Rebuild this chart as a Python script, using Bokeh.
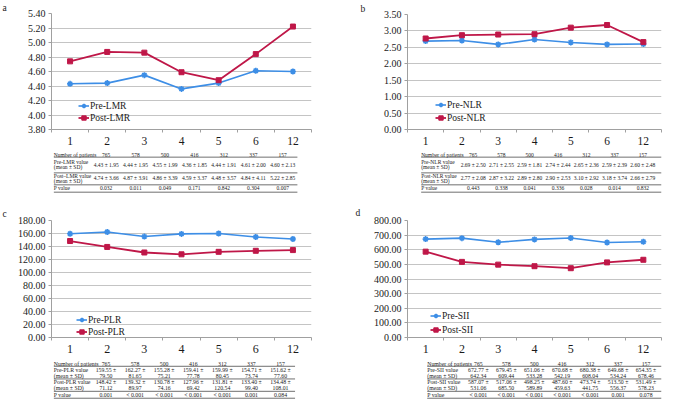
from bokeh.plotting import figure
from bokeh.layouts import column, row
from bokeh.models import Range1d, FixedTicker, NumeralTickFormatter
from bokeh.embed import file_html
from bokeh.resources import INLINE
from bokeh.core.properties import value

# ---------------- data ----------------
categories = ["1", "2", "3", "4", "5", "6", "12"]
n_patients = [765, 578, 500, 416, 312, 337, 157]

lmr_pre_mean = [4.43, 4.44, 4.55, 4.36, 4.44, 4.61, 4.60]
lmr_pre_sd = [1.95, 1.95, 1.99, 1.85, 1.91, 2.00, 2.13]
lmr_post_mean = [4.74, 4.87, 4.86, 4.59, 4.48, 4.84, 5.22]
lmr_post_sd = [3.66, 3.91, 3.39, 3.37, 3.57, 4.11, 2.85]
lmr_p = ["0.032", "0.011", "0.049", "0.171", "0.842", "0.304", "0.007"]
lmr_yticks = [3.80, 4.00, 4.20, 4.40, 4.60, 4.80, 5.00, 5.20, 5.40]

nlr_pre_mean = [2.69, 2.71, 2.59, 2.74, 2.65, 2.59, 2.60]
nlr_pre_sd = [2.50, 2.55, 1.81, 2.44, 2.36, 2.39, 2.48]
nlr_post_mean = [2.77, 2.87, 2.89, 2.90, 3.10, 3.18, 2.66]
nlr_post_sd = [2.08, 3.22, 2.80, 2.53, 2.92, 3.74, 2.79]
nlr_p = ["0.443", "0.338", "0.041", "0.336", "0.028", "0.014", "0.832"]
nlr_yticks = [0.00, 0.50, 1.00, 1.50, 2.00, 2.50, 3.00, 3.50]

plr_pre_mean = [159.55, 162.27, 155.28, 159.41, 159.99, 154.71, 151.62]
plr_pre_sd = [79.50, 81.65, 75.21, 77.78, 80.45, 73.74, 77.60]
plr_post_mean = [148.42, 139.32, 130.78, 127.96, 131.81, 133.40, 134.48]
plr_post_sd = [71.12, 89.97, 74.16, 69.42, 120.54, 99.40, 108.01]
plr_p = ["0.001", "< 0.001", "< 0.001", "< 0.001", "< 0.001", "0.001", "0.084"]
plr_yticks = [0, 20, 40, 60, 80, 100, 120, 140, 160, 180]

sii_pre_mean = [672.77, 679.45, 651.06, 670.68, 680.38, 649.68, 654.35]
sii_pre_sd = [642.34, 609.44, 533.28, 542.19, 608.04, 534.24, 678.46]
sii_post_mean = [587.07, 517.06, 498.25, 487.60, 473.74, 513.50, 531.49]
sii_post_sd = [531.06, 685.50, 589.89, 459.63, 441.75, 556.37, 578.23]
sii_p = ["< 0.001", "< 0.001", "< 0.001", "< 0.001", "< 0.001", "0.001", "0.078"]
sii_yticks = [0, 100, 200, 300, 400, 500, 600, 700, 800]

# ---------------- style / layout ----------------
BLUE = "#3d8ee6"
RED = "#bf1748"
GRID = "#c4c4c4"
AXIS = "#a0a0a0"
SERIF = "Liberation Serif"
TXT = "#1a1a1a"

REF_W, REF_H = 683, 419
W, H = 667, 403
SX, SY = W / REF_W, H / REF_H


def X(v):
    return round(v * SX)


def Y(v):
    return round(v * SY)


# table row positions (reference-pixel y, absolute)
TOP_ROWS = dict(num=160.3, line1=163.0, pre=(168.3, 173.5), line2=179.3,
                post=(182.3, 187.8), line3=191.7, pval=195.2, bottom=199.3,
                two_line=False, font="5.5px")
BOT_ROWS = dict(num=377.6, line1=380.2, pre=(383.6, 390.0), line2=393.4,
                post=(397.0, 402.8), line3=406.3, pval=410.0, bottom=413.5,
                two_line=True, font="5.8px")

nx = len(categories)
xs = [i + 1 for i in range(nx)]
bounds = [i + 0.5 for i in range(nx + 1)]


def make_panel(spec, pre_m, pre_sd, post_m, post_sd, pvals, yticks, name, yfont, xfont):
    cl, cr = spec["col"]
    ct, cb = spec["chart"]
    tb = spec["tab_bottom"]
    fl, fr, ft, fb = spec["frame"]
    wpx = X(cr) - X(cl)
    hpx = Y(cb) - Y(ct)
    bl = X(fl) - X(cl)
    br = X(cr) - X(fr)
    bt = Y(ft) - Y(ct)
    bb = Y(cb) - Y(fb)

    letter, lx0 = spec["letter"]
    p = figure(width=wpx, height=hpx, x_range=Range1d(0.5, nx + 0.5),
               y_range=Range1d(yticks[0], yticks[-1]),
               output_backend="svg", toolbar_location=None,
               min_border_left=bl, min_border_right=br,
               min_border_top=bt, min_border_bottom=bb,
               title=letter)
    p.title.align = "left"
    p.title.offset = X(lx0) - X(fl)
    p.title.standoff = spec["letter_standoff"]
    p.title.text_font = SERIF
    p.title.text_font_style = "normal"
    p.title.text_font_size = "9.5px"
    p.title.text_color = TXT
    p.title.text_line_height = 1.0

    p.outline_line_color = None
    p.xgrid.visible = False
    p.ygrid.grid_line_color = GRID
    p.ygrid.grid_line_width = 1
    p.yaxis.ticker = FixedTicker(ticks=yticks)
    p.ygrid.ticker = FixedTicker(ticks=yticks)
    p.yaxis.formatter = NumeralTickFormatter(format="0.00")
    p.yaxis.axis_label = None
    p.yaxis.axis_label_standoff = 0
    p.yaxis.axis_line_color = AXIS
    p.yaxis.major_tick_line_color = AXIS
    p.yaxis.major_tick_out = 3
    p.yaxis.major_tick_in = 0
    p.yaxis.minor_tick_line_color = None
    p.yaxis.major_label_standoff = 3
    p.yaxis.major_label_text_font = SERIF
    p.yaxis.major_label_text_font_size = yfont
    p.yaxis.major_label_text_color = TXT

    p.xaxis.ticker = FixedTicker(ticks=xs, minor_ticks=bounds)
    p.xaxis.major_label_overrides = {x: c for x, c in zip(xs, categories)}
    p.xaxis.axis_label = None
    p.xaxis.axis_label_standoff = 0
    p.xaxis.axis_line_color = AXIS
    p.xaxis.major_tick_line_color = None
    p.xaxis.major_tick_out = 0
    p.xaxis.major_tick_in = 0
    p.xaxis.minor_tick_line_color = AXIS
    p.xaxis.minor_tick_out = 3
    p.xaxis.minor_tick_in = 0
    p.xaxis.major_label_standoff = 4
    p.xaxis.major_label_text_font = SERIF
    p.xaxis.major_label_text_font_size = xfont
    p.xaxis.major_label_text_line_height = 1.0
    p.xaxis.major_label_text_color = TXT

    lp = "Pre-" + name
    lq = "Post-" + name
    p.line(xs, pre_m, line_color=BLUE, line_width=1.6, legend_label=lp)
    p.scatter(xs, pre_m, marker="asterisk", size=6, line_color=BLUE, line_width=1.6, legend_label=lp)
    p.line(xs, post_m, line_color=RED, line_width=1.8, legend_label=lq)
    p.scatter(xs, post_m, marker="square", size=5, line_color=RED, fill_color=RED, legend_label=lq)

    lg = p.legend[0]
    lx, ly, sp = spec["legend"]
    lg.location = (round(lx * SX), round(ly * SY))
    lg.background_fill_alpha = 0
    lg.border_line_alpha = 0
    lg.padding = 0
    lg.margin = 0
    lg.spacing = sp
    lg.glyph_width = 11
    lg.glyph_height = 11
    lg.label_height = 11
    lg.label_standoff = 1
    lg.label_text_font = SERIF
    lg.label_text_font_size = "9.5px"
    lg.label_text_color = TXT

    # ---------------- table ----------------
    unit = (X(fr) - X(fl)) / nx
    tstart = 0.5 - bl / unit
    tend = nx + 0.5 + br / unit
    t = figure(width=wpx, height=Y(tb) - Y(cb), x_range=Range1d(tstart, tend),
               y_range=Range1d(tb, cb), x_axis_type=None, y_axis_type=None,
               output_backend="svg", toolbar_location=None,
               min_border=0, min_border_left=0, min_border_right=0,
               min_border_top=0, min_border_bottom=0)
    t.outline_line_color = None
    tl, tr = spec["table"]
    x_left = 0.5 + (X(tl) - X(fl)) / unit
    x_right = 0.5 + (X(tr) - X(fl)) / unit
    rows = spec["rows"]
    fs = value(rows["font"])

    left_txt = ["Number of patients",
                "Pre-%s value" % name, "(mean \u00b1 SD)",
                spec["post_label"], "(mean \u00b1 SD)", "P value"]
    left_y = [rows["num"], rows["pre"][0], rows["pre"][1],
              rows["post"][0], rows["post"][1], rows["pval"]]
    t.text(x=[x_left] * len(left_txt), y=left_y, text=left_txt,
           text_font=value(SERIF), text_font_size=fs, text_align="left",
           text_baseline="middle", text_color=TXT)

    t.text(x=xs, y=[rows["num"]] * nx, text=[str(n) for n in n_patients],
           text_font=value(SERIF), text_font_size=fs, text_align="center",
           text_baseline="middle", text_color=TXT)
    if rows["two_line"]:
        for m, s, yy in ((pre_m, pre_sd, rows["pre"]), (post_m, post_sd, rows["post"])):
            t.text(x=xs, y=[yy[0]] * nx, text=["%.2f \u00b1" % v for v in m],
                   text_font=value(SERIF), text_font_size=fs, text_align="center",
                   text_baseline="middle", text_color=TXT)
            t.text(x=xs, y=[yy[1]] * nx, text=["%.2f" % v for v in s],
                   text_font=value(SERIF), text_font_size=fs, text_align="center",
                   text_baseline="middle", text_color=TXT)
    else:
        for m, s, yy in ((pre_m, pre_sd, rows["pre"]), (post_m, post_sd, rows["post"])):
            t.text(x=xs, y=[(yy[0] + yy[1]) / 2] * nx,
                   text=["%.2f \u00b1 %.2f" % (a, b) for a, b in zip(m, s)],
                   text_font=value(SERIF), text_font_size=fs, text_align="center",
                   text_baseline="middle", text_color=TXT)
    t.text(x=xs, y=[rows["pval"]] * nx, text=pvals,
           text_font=value(SERIF), text_font_size=fs, text_align="center",
           text_baseline="middle", text_color=TXT)

    ly_lines = [rows["line1"], rows["line2"], rows["line3"], rows["bottom"]]
    t.segment(x0=[x_left] * 4, y0=ly_lines, x1=[x_right] * 4, y1=ly_lines,
              line_color="#4a4a4a", line_width=0.8)
    return p, t


spec_a = dict(col=(0, 340), chart=(0, 153), tab_bottom=210, frame=(52, 322, 10, 134),
              table=(3, 322), letter=("a", 2), letter_standoff=1, legend=(28, 6, 1),
              rows=TOP_ROWS, post_label="Post\u2013LMR value")
spec_b = dict(col=(340, 683), chart=(0, 153), tab_bottom=210, frame=(410, 677, 12, 134),
              table=(358, 683), letter=("b", 361), letter_standoff=2, legend=(29, 6, 2),
              rows=TOP_ROWS, post_label="Post-NLR value")
spec_c = dict(col=(0, 340), chart=(210, 370), tab_bottom=419, frame=(52, 318, 229, 350),
              table=(3, 318), letter=("c", 2), letter_standoff=4, legend=(26, 0, 1),
              rows=BOT_ROWS, post_label="Post-PLR value")
spec_d = dict(col=(340, 683), chart=(210, 370), tab_bottom=419, frame=(417, 681, 229, 350),
              table=(367, 683), letter=("d", 364), letter_standoff=5, legend=(24, 2, 3),
              rows=BOT_ROWS, post_label="Post-SII value")

pa, ta = make_panel(spec_a, lmr_pre_mean, lmr_pre_sd, lmr_post_mean, lmr_post_sd, lmr_p,
                    lmr_yticks, "LMR", "10px", "11.5px")
pb, tb_ = make_panel(spec_b, nlr_pre_mean, nlr_pre_sd, nlr_post_mean, nlr_post_sd, nlr_p,
                     nlr_yticks, "NLR", "10px", "11.5px")
pc, tc = make_panel(spec_c, plr_pre_mean, plr_pre_sd, plr_post_mean, plr_post_sd, plr_p,
                    plr_yticks, "PLR", "10px", "12px")
pd_, td = make_panel(spec_d, sii_pre_mean, sii_pre_sd, sii_post_mean, sii_post_sd, sii_p,
                     sii_yticks, "SII", "10px", "12px")

left = column(pa, ta, pc, tc, spacing=0)
right = column(pb, tb_, pd_, td, spacing=0)
layout = row(left, right, spacing=0)

open("out.html", "w").write(file_html(layout, INLINE))
